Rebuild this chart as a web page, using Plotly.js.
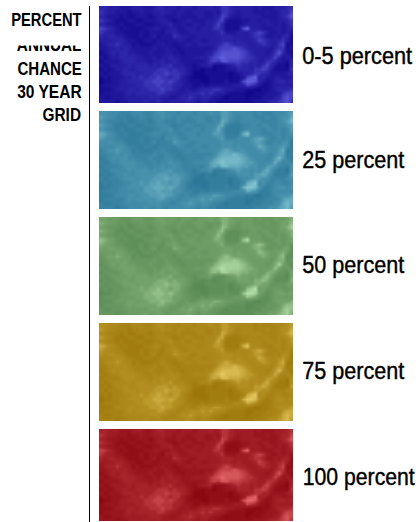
<!DOCTYPE html>
<html>
<head>
<meta charset="utf-8">
<script src="https://cdn.plot.ly/plotly-3.0.1.min.js"></script>
<style>html,body{margin:0;padding:0;background:#fff;overflow:hidden}#chart{width:419px;height:522px}</style>
</head>
<body>
<div id="chart"></div>
<script>
const categories = ["0-5 percent", "25 percent", "50 percent", "75 percent", "100 percent"];
const legendTitleLines = ["PERCENT", "ANNUAL", "CHANCE", "30 YEAR", "GRID"];
const darkColors = ["#10068c", "#2c7698", "#5a8a54", "#9c7608", "#8a0710"];
const midColors = ["#2f27ab", "#4a93ae", "#75a56c", "#b38f22", "#a8252c"];
const lightColors = ["#6a68e6", "#8accd4", "#bce6b0", "#ecd068", "#ee7072"];
const terrainRows = [
 "554443334443345544434443444544665444443433344456",
 "654433323343344544344334443343665434443334334557",
 "543332322333234433343333443344764334444433334568",
 "654322233223334443233443334446732223344344334456",
 "543323222332233445334334434457522223444434434346",
 "765432322223344334433444344466522227944433344345",
 "654433222232333244543344444445633344456764334343",
 "545544322232342333654433444444555444456653343552",
 "444455433223323333344334433444555454445765445642",
 "345565442322233433233443444445676555444565446722",
 "334454543333343343323333333346777876544444356623",
 "234545544333433344332333334467888887654443468532",
 "323445555443343445443334444678988887665444575343",
 "233334555444344544543333334676887776655446653325",
 "323444454555454556444332344522234565545467532215",
 "232344544555556665655432212212233355546676422226",
 "323334555455566676665431112222221234456655333345",
 "232333445565667665664321111222221223789453344334",
 "122334455556677767654322211222232227998532345545",
 "233334444556667666554332232333333444765322344444",
 "222344455455666766543433455566544333221122345556",
 "233333454555556654434455565654432222112223334677",
 "322333444444555443345565455433212222122233345787",
 "333323344445445434444554344332222222223334556786"
];
const terrain = terrainRows.map(r => Array.from(r, Number));

const W = 419, H = 522;
const panelTops = [6, 111, 217, 323, 429];
const panelBottoms = [103, 209, 315, 421, 521.5];
const labelYs = [56, 160, 265, 371, 477];
const labelLefts = [302, 302, 302, 302, 303];
const labelWidths = [110, 102, 102, 102, 112];
const titleYs = [20, 44, 68, 92, 115];
const titleLefts = [11, 17, 17, 17, 43];
const titleRight = 81.5;
const sans = '"Liberation Sans", Arial, sans-serif';

const layout = {
  width: W, height: H,
  margin: {l: 0, r: 0, t: 0, b: 0},
  paper_bgcolor: "#fff", plot_bgcolor: "#fff",
  showlegend: false,
  shapes: [{type: "line", xref: "paper", yref: "paper", x0: 89.5/W, x1: 89.5/W, y0: 0, y1: 1 - 6/H,
            line: {color: "#000", width: 1}}],
  annotations: []
};
const squeeze = {};

const traces = categories.map((name, i) => {
  const sfx = i === 0 ? "" : String(i + 1);
  layout["xaxis" + sfx] = {domain: [99/W, 293/W], visible: false, fixedrange: true, anchor: "y" + sfx, range: [-0.5, 47.5]};
  layout["yaxis" + sfx] = {domain: [1 - panelBottoms[i]/H, 1 - panelTops[i]/H], visible: false, fixedrange: true,
                           anchor: "x" + sfx, range: [23.5, -0.5]};
  squeeze[name] = labelWidths[i];
  layout.annotations.push({
    xref: "paper", yref: "paper", x: (labelLefts[i] + labelWidths[i]/2)/W, y: 1 - labelYs[i]/H,
    xanchor: "center", yanchor: "middle",
    text: name, showarrow: false, font: {family: sans, size: 23, color: "#000"}
  });
  return {
    type: "heatmap", name, z: terrain, xaxis: "x" + sfx, yaxis: "y" + sfx,
    zmin: 1, zmax: 9.5, zsmooth: "best", showscale: false, hoverinfo: "skip",
    colorscale: [[0, darkColors[i]], [0.5, midColors[i]], [1, lightColors[i]]]
  };
});

legendTitleLines.forEach((line, i) => {
  squeeze[line] = titleRight - titleLefts[i];
  layout.annotations.push({
    xref: "paper", yref: "paper", x: (titleLefts[i] + titleRight)/2/W, y: 1 - titleYs[i]/H,
    xanchor: "center", yanchor: "middle",
    text: line, showarrow: false, borderpad: 0,
    font: {family: sans, size: 19, color: "#000", weight: "bold"}
  });
});
// White strip hides the top of the second title line, as in the reference.
layout.annotations.push({
  xref: "paper", yref: "paper", x: 84/W, y: 1 - 30/H, xanchor: "right", yanchor: "top",
  text: " ", showarrow: false, width: 76, height: 14, bgcolor: "#fff", borderpad: 0
});

Plotly.newPlot("chart", traces, layout, {displayModeBar: false, staticPlot: true}).then(() => {
  document.querySelectorAll("#chart .annotation-text").forEach(t => {
    const w = squeeze[t.textContent];
    if (w) {
      t.setAttribute("textLength", w);
      t.setAttribute("lengthAdjust", "spacingAndGlyphs");
      if (categories.includes(t.textContent)) {
        t.style.stroke = "#000";
        t.style.strokeWidth = "0.4px";
      }
    }
  });
});
</script>
</body>
</html>
